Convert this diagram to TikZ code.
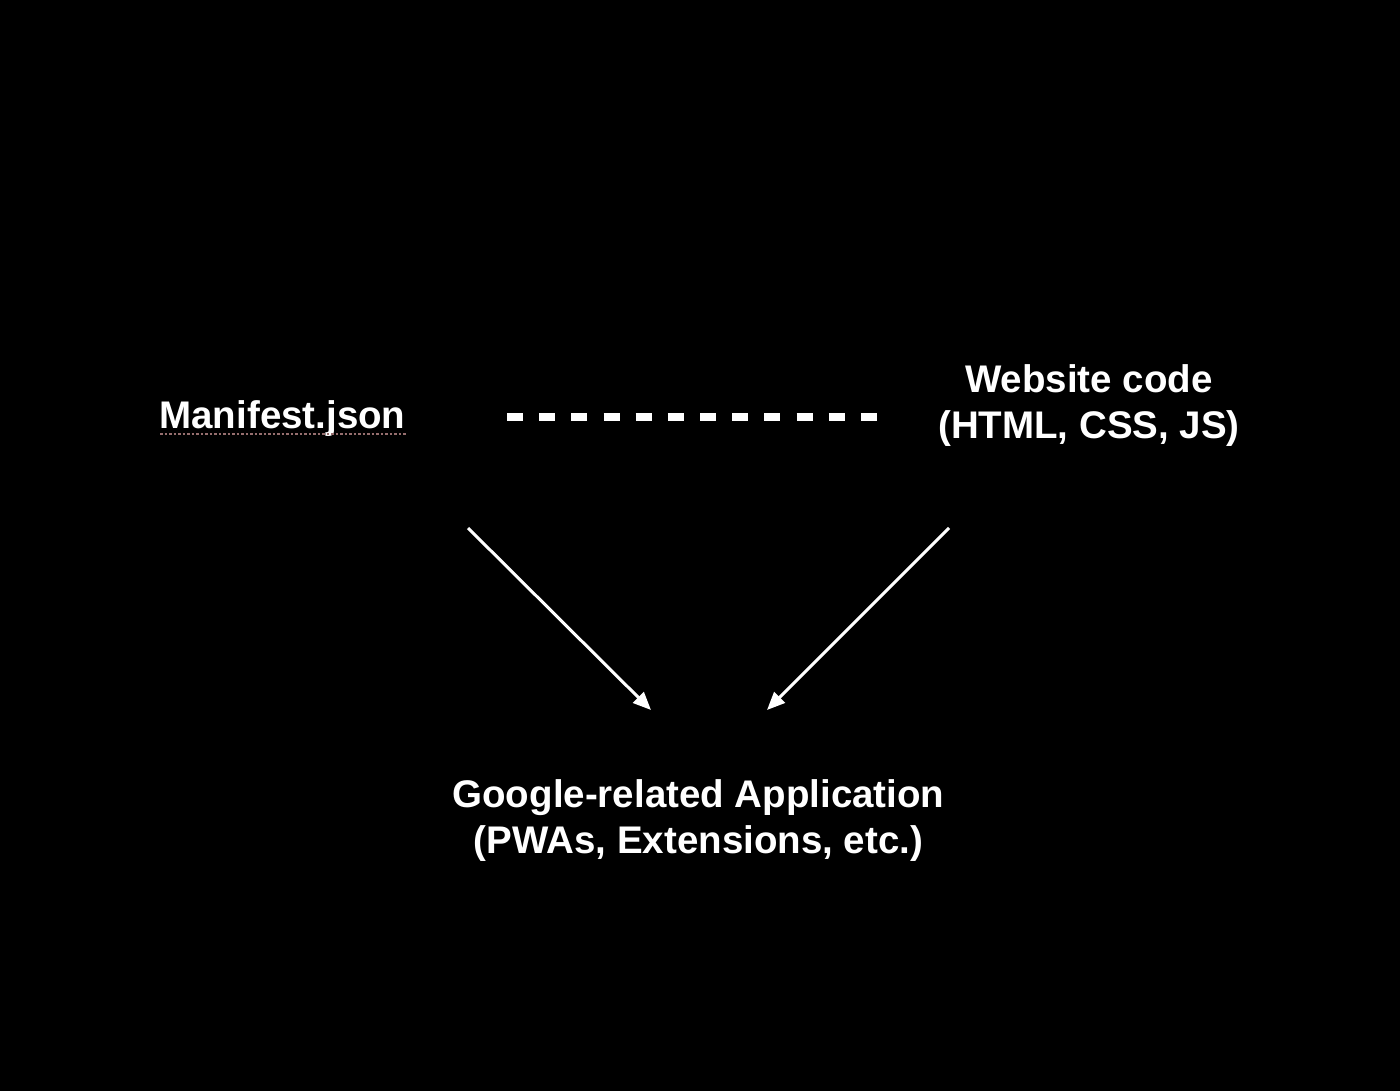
\documentclass[tikz,border=0pt]{standalone}
\usepackage{fontspec}
\setmainfont{Liberation Sans}
\usetikzlibrary{arrows.meta}
\begin{document}
\begin{tikzpicture}[x=1pt,y=-1pt,
  lbl/.style={text=white,font=\fontsize{38.5}{46}\selectfont\bfseries,inner sep=0pt,anchor=base},
  arr/.style={draw=white,line width=3pt,-{Triangle[length=18pt,width=15pt]}},
  dashln/.style={draw=white,line width=8pt,dash pattern=on 16pt off 16.18pt},
  squig/.style={draw={rgb,255:red,150;green,110;blue,110},line width=2.5pt,dash pattern=on 2.5pt off 2pt}]
\fill[black] (0,0) rectangle (1400,1091);
\useasboundingbox (0,0) rectangle (1400,1091);
\node[lbl] (man) at (282.5,428) {Manifest.json};
\node[lbl] (web1) at (1089,392) {Website code};
\node[lbl] (web2) at (1089,438) {(HTML, CSS, JS)};
\node[lbl] (app1) at (698.5,807) {Google-related Application};
\node[lbl] (app2) at (698.5,853) {(PWAs, Extensions, etc.)};
\coordinate (sq1) at (160,434);
\coordinate (sq2) at (406,434);
\draw[squig] (sq1) -- (sq2);
\coordinate (d1) at (507,417);
\coordinate (d2) at (877,417);
\draw[dashln] (d1) -- (d2);
\coordinate (la) at (468,528);
\coordinate (lb) at (651,710);
\coordinate (ra) at (949,528);
\coordinate (rb) at (767,710);
\draw[arr] (la) -- (lb);
\draw[arr] (ra) -- (rb);
\end{tikzpicture}
\end{document}
